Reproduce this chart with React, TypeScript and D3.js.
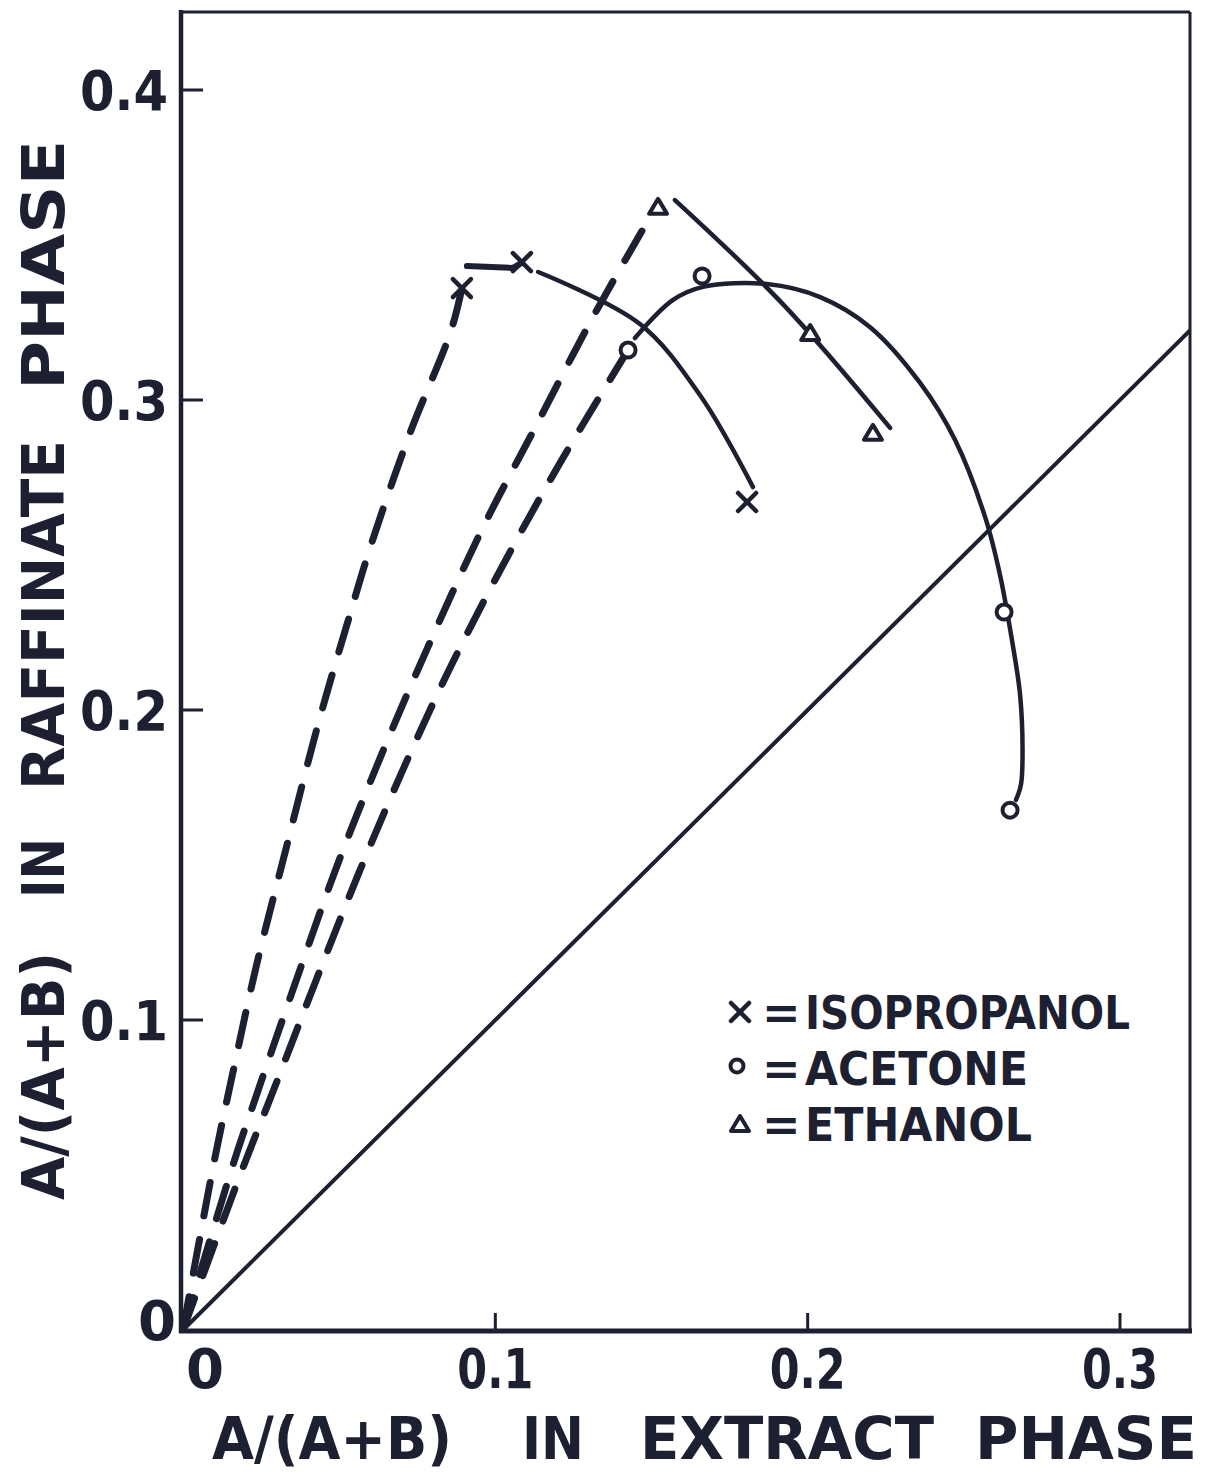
import React from 'react';
import * as d3 from 'd3';

type P = [number, number];

// tie lines (dashed), extract x vs raffinate y
const isoDashed: P[] = [
  [0, 0], [0.0099, 0.0539], [0.0160, 0.0832], [0.0234, 0.1171], [0.0333, 0.1565],
  [0.0432, 0.1952], [0.0535, 0.2310], [0.0599, 0.2523], [0.0727, 0.2894],
  [0.0858, 0.3223], [0.0893, 0.3361],
];
const ethDashed: P[] = [
  [0, 0], [0.0163, 0.0542], [0.0231, 0.0745], [0.0365, 0.1135], [0.0493, 0.1497],
  [0.0631, 0.1845], [0.0784, 0.2203], [0.0961, 0.2590], [0.1127, 0.2910],
  [0.1316, 0.3274], [0.1518, 0.3629],
];
const aceDashed: P[] = [
  [0, 0], [0.0183, 0.0500], [0.0295, 0.0787], [0.0419, 0.1110], [0.0564, 0.1477],
  [0.0711, 0.1823], [0.0858, 0.2142], [0.1021, 0.2461], [0.1207, 0.2797],
  [0.1425, 0.3161],
];

// solid curves
const isoCurve: P[] = [
  [0.1137, 0.3413], [0.1463, 0.3245], [0.1655, 0.3016], [0.1825, 0.2719],
];
const isoTie: P[] = [[0.0909, 0.3432], [0.1057, 0.3426], [0.1080, 0.3440]];
const aceCurve: P[] = [
  [0.1447, 0.3200], [0.1569, 0.3323], [0.1665, 0.3365], [0.1870, 0.3374],
  [0.2040, 0.3332], [0.2200, 0.3235], [0.2360, 0.3055], [0.2472, 0.2871],
  [0.2568, 0.2623], [0.2616, 0.2435], [0.2654, 0.2226], [0.2680, 0.2050],
  [0.2688, 0.1870], [0.2683, 0.1760], [0.2667, 0.1710],
];
const ethCurve: P[] = [[0.1575, 0.3645], [0.1920, 0.3310], [0.2264, 0.2910]];

// data points
const isoPoints: P[] = [[0.0893, 0.3361], [0.1085, 0.3445], [0.1806, 0.2671]];
const acePoints: P[] = [[0.1425, 0.3161], [0.1662, 0.3400], [0.2629, 0.2316], [0.2648, 0.1677]];
const ethPoints: P[] = [[0.1521, 0.3623], [0.2008, 0.3216], [0.2209, 0.2894]];

const xTicks = [0.1, 0.2, 0.3];
const yTicks = [0.1, 0.2, 0.3, 0.4];
const xTickLabels = ['0', '0.1', '0.2', '0.3'];
const yTickLabels = ['0', '0.1', '0.2', '0.3', '0.4'];
const legendItems = ['ISOPROPANOL', 'ACETONE', 'ETHANOL'];
const legendWidths = [325, 223, 227];

// axis title words: [word, start, width]
const xTitleWords: [string, number, number][] = [
  ['A/(A+B)', 212, 240], ['IN', 522, 62], ['EXTRACT', 640, 294], ['PHASE', 975, 222],
];
const yTitleWords: [string, number, number][] = [
  ['A/(A+B)', 0, 248], ['IN', 302, 60], ['RAFFINATE', 410, 350], ['PHASE', 810, 250],
];

const INK = '#1c2030';
const FONT = '"DejaVu Sans", sans-serif';

export default function App() {
  const x = d3.scaleLinear().domain([0, 0.3]).range([183, 1120]);
  const y = d3.scaleLinear().domain([0, 0.4]).range([1330, 90]);
  const xMax = x.invert(1190);
  const yMax = y.invert(12);

  const smooth = d3.line<P>().x(d => x(d[0])).y(d => y(d[1])).curve(d3.curveCatmullRom);
  const straight = d3.line<P>().x(d => x(d[0])).y(d => y(d[1]));

  const cross = (cx: number, cy: number, key: string) => {
    const s = 9;
    return (
      <g key={key} stroke={INK} strokeWidth={4.5} strokeLinecap="round">
        <line x1={cx - s} y1={cy - s} x2={cx + s} y2={cy + s} />
        <line x1={cx - s} y1={cy + s} x2={cx + s} y2={cy - s} />
      </g>
    );
  };
  const circle = (p: P, i: number) => (
    <circle key={'o' + i} cx={x(p[0])} cy={y(p[1])} r={7.5} fill="white" stroke={INK} strokeWidth={4} />
  );
  const tri = (cx: number, cy: number, key: string) => (
    <path key={key} d={`M${cx},${cy - 8} L${cx + 9},${cy + 7} L${cx - 9},${cy + 7} Z`}
      fill="white" stroke={INK} strokeWidth={4} strokeLinejoin="round" />
  );

  return (
    <div style={{ position: 'absolute', left: 0, top: 0 }}>
      <svg width={1216} height={1472} style={{ display: 'block', background: 'white' }}>
        <defs>
          <clipPath id="plot">
            <rect x={181} y={12} width={1009} height={1320} />
          </clipPath>
        </defs>

        {/* frame */}
        <line x1={181} y1={12} x2={1190} y2={12} stroke={INK} strokeWidth={3} />
        <line x1={1190} y1={12} x2={1190} y2={1332} stroke={INK} strokeWidth={3} />
        <line x1={181} y1={10} x2={181} y2={1333} stroke={INK} strokeWidth={4.5} />
        <line x1={179} y1={1331} x2={1192} y2={1331} stroke={INK} strokeWidth={5} />

        {/* ticks */}
        {yTicks.map(t => (
          <line key={'yt' + t} x1={181} x2={203} y1={y(t)} y2={y(t)} stroke={INK} strokeWidth={3} />
        ))}
        {xTicks.map(t => (
          <line key={'xt' + t} x1={x(t)} x2={x(t)} y1={1331} y2={1313} stroke={INK} strokeWidth={3} />
        ))}

        {/* tick labels */}
        <g fontFamily={FONT} fontWeight="bold" fontSize={56} fill={INK}>
          {yTickLabels.map((l, i) => (
            <text key={'yl' + l} x={i === 0 ? 176 : 168} y={i === 0 ? y(0) - 10 : y(i / 10)} dy="0.36em"
              textAnchor="end" textLength={i === 0 ? 38 : 88} lengthAdjust="spacingAndGlyphs">{l}</text>
          ))}
          {xTickLabels.map((l, i) => (
            <text key={'xl' + l} x={x(i / 10) + (i === 0 ? 22 : 0)} y={1388} textAnchor="middle"
              textLength={i === 0 ? 38 : 76} lengthAdjust="spacingAndGlyphs">{l}</text>
          ))}
        </g>

        {/* axis titles */}
        <g fontFamily={FONT} fontWeight="bold" fontSize={58} fill={INK}>
          {xTitleWords.map(([w, s, len]) => (
            <text key={'xw' + w} x={s} y={1459} textLength={len} lengthAdjust="spacingAndGlyphs">{w}</text>
          ))}
          <g transform="translate(64,1200) rotate(-90)">
            {yTitleWords.map(([w, s, len]) => (
              <text key={'yw' + w} x={s} y={0} textLength={len} lengthAdjust="spacingAndGlyphs">{w}</text>
            ))}
          </g>
        </g>

        <g clipPath="url(#plot)" fill="none">
          {/* 45 degree line */}
          <path d={straight([[0, 0], [Math.min(xMax, yMax), Math.min(xMax, yMax)]]) || ''} stroke={INK} strokeWidth={4} />

          {/* dashed tie lines */}
          {[isoDashed, ethDashed, aceDashed].map((d, i) => (
            <path key={'d' + i} d={smooth(d) || ''} stroke={INK} strokeWidth={7}
              strokeDasharray="34 24" strokeLinecap="round" />
          ))}

          {/* solid curves */}
          <path d={smooth(isoCurve) || ''} stroke={INK} strokeWidth={4.5} strokeLinecap="round" />
          <path d={straight(isoTie) || ''} stroke={INK} strokeWidth={6} strokeLinecap="round" />
          <path d={smooth(aceCurve) || ''} stroke={INK} strokeWidth={4.5} strokeLinecap="round" />
          <path d={smooth(ethCurve) || ''} stroke={INK} strokeWidth={4.5} strokeLinecap="round" />

          {isoPoints.map((p, i) => cross(x(p[0]), y(p[1]), 'x' + i))}
          {acePoints.map(circle)}
          {ethPoints.map((p, i) => tri(x(p[0]), y(p[1]), 't' + i))}
        </g>

        {/* legend */}
        <g>
          {cross(740, 1012, 'legx')}
          <circle cx={737} cy={1066} r={6.5} fill="white" stroke={INK} strokeWidth={4} />
          {tri(740, 1124, 'legtri')}
          <g fontFamily={FONT} fontWeight="bold" fontSize={46} fill={INK}>
            {legendItems.map((l, i) => (
              <g key={l}>
                <text x={762} y={1029 + i * 56}>=</text>
                <text x={805} y={1029 + i * 56} textLength={legendWidths[i]} lengthAdjust="spacingAndGlyphs">{l}</text>
              </g>
            ))}
          </g>
        </g>
      </svg>
    </div>
  );
}
